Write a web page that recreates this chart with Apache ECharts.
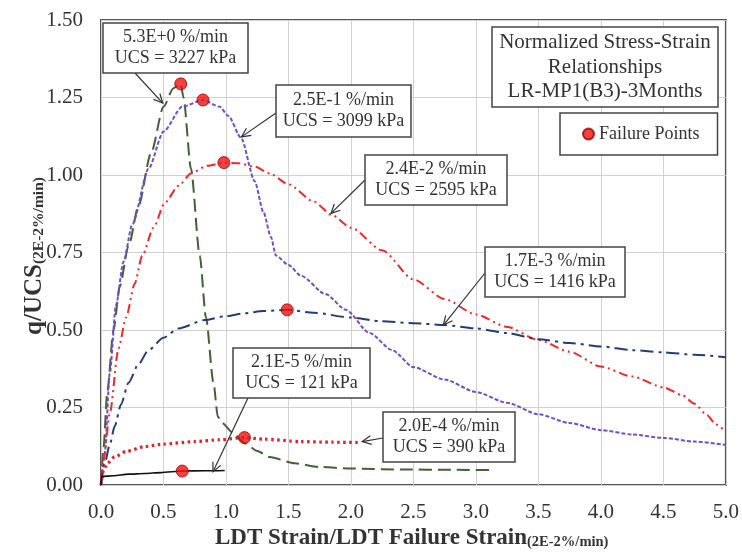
<!DOCTYPE html>
<html>
<head>
<meta charset="utf-8">
<script src="https://cdn.jsdelivr.net/npm/echarts@6/dist/echarts.min.js"></script>
<style>
  html, body { margin: 0; padding: 0; background: #fff; }
  #chart { width: 742px; height: 556px; }
</style>
</head>
<body>
<div id="chart"></div>
<script>
// Normalized stress-strain curves, LR-MP1(B3), 3 months of curing.
// x: LDT strain / LDT failure strain at 2E-2 %/min, y: q / UCS at 2E-2 %/min.

const rateLabels = ['5.3E+0', '2.5E-1', '2.4E-2', '1.7E-3', '2.0E-4', '2.1E-5'];
const ucsKpa = [3227, 3099, 2595, 1416, 390, 121];

const strain53 = [0, 0.02, 0.05, 0.1, 0.15, 0.22, 0.3, 0.4, 0.5, 0.58, 0.638, 0.66, 0.72, 0.79, 0.84, 0.9, 0.935, 0.97, 1.05, 1.15, 1.25, 1.35, 1.55, 1.75, 2.0, 2.4, 2.8, 3.13];
const q53 = [0, 0.12, 0.3, 0.5, 0.64, 0.77, 0.9, 1.07, 1.22, 1.28, 1.294, 1.25, 1.02, 0.74, 0.54, 0.33, 0.22, 0.2, 0.17, 0.135, 0.11, 0.09, 0.07, 0.058, 0.053, 0.05, 0.049, 0.048];

const strain25 = [0, 0.03, 0.07, 0.12, 0.18, 0.25, 0.38, 0.5, 0.65, 0.816, 0.95, 1.02, 1.12, 1.23, 1.3, 1.36, 1.4, 1.5, 1.6, 1.8, 1.96, 2.15, 2.33, 2.5, 2.75, 3.0, 3.25, 3.5, 3.75, 4.0, 4.25, 4.5, 4.75, 5.0];
const q25 = [0, 0.1, 0.36, 0.58, 0.72, 0.84, 1.02, 1.14, 1.22, 1.242, 1.22, 1.19, 1.12, 0.98, 0.88, 0.8, 0.74, 0.71, 0.675, 0.615, 0.565, 0.49, 0.435, 0.38, 0.34, 0.3, 0.265, 0.228, 0.2, 0.177, 0.163, 0.152, 0.14, 0.129];

const strain24 = [0, 0.02, 0.07, 0.14, 0.2, 0.27, 0.33, 0.42, 0.51, 0.62, 0.72, 0.85, 0.983, 1.1, 1.23, 1.35, 1.5, 1.7, 1.85, 2.0, 2.25, 2.5, 2.75, 3.0, 3.25, 3.5, 3.75, 4.0, 4.25, 4.5, 4.65, 4.75, 4.85, 4.92, 5.0];
const q24 = [0, 0.08, 0.23, 0.44, 0.54, 0.65, 0.74, 0.83, 0.91, 0.965, 1.005, 1.03, 1.04, 1.038, 1.027, 1.005, 0.97, 0.915, 0.87, 0.83, 0.757, 0.663, 0.6, 0.55, 0.51, 0.468, 0.43, 0.382, 0.35, 0.315, 0.29, 0.262, 0.225, 0.195, 0.172];

const strain17 = [0, 0.03, 0.07, 0.11, 0.16, 0.22, 0.3, 0.38, 0.5, 0.62, 0.83, 1.0, 1.15, 1.3, 1.49, 1.7, 2.0, 2.25, 2.5, 2.75, 3.0, 3.25, 3.5, 3.75, 4.0, 4.25, 4.5, 4.75, 5.0];
const q17 = [0, 0.07, 0.13, 0.19, 0.26, 0.33, 0.39, 0.435, 0.475, 0.505, 0.532, 0.545, 0.554, 0.561, 0.565, 0.556, 0.54, 0.528, 0.522, 0.516, 0.505, 0.49, 0.47, 0.458, 0.447, 0.435, 0.428, 0.42, 0.412];

const strain20 = [0, 0.02, 0.05, 0.11, 0.2, 0.35, 0.5, 0.75, 0.95, 1.148, 1.3, 1.6, 1.85, 2.08];
const q20 = [0, 0.048, 0.07, 0.091, 0.108, 0.124, 0.132, 0.14, 0.146, 0.153, 0.148, 0.14, 0.138, 0.137];

const strain21 = [0, 0.005, 0.1, 0.22, 0.35, 0.48, 0.65, 0.83, 0.99];
const q21 = [0, 0.027, 0.03, 0.035, 0.037, 0.04, 0.045, 0.046, 0.047];

const failStrain = [0.638, 0.816, 0.983, 1.49, 1.148, 0.65];
const failQ = [1.294, 1.242, 1.04, 0.565, 0.153, 0.045];

// Points on each curve that the callout arrows touch (data units)
const calloutTipStrain = [0.494, 1.124, 1.84, 2.74, 2.09, 0.896];
const calloutTipQ = [1.232, 1.123, 0.876, 0.516, 0.14, 0.043];

const titleLines = ['Normalized Stress-Strain', 'Relationships', 'LR-MP1(B3)-3Months'];

// ---- layout (pixels) ----
const SERIF = '"Liberation Serif", "Times New Roman", serif';
const GRID = { left: 101, top: 20, right: 14, bottom: 71 };
// callout boxes [x, y, w, h] and arrow tails [x, y], in series order
const boxRects = [
  [103, 23, 145, 50],
  [276, 85, 135, 52],
  [365, 155, 142, 50],
  [485, 247, 140, 50],
  [383, 412, 132, 50],
  [233, 348, 137, 50]
];
const arrowTails = [[135, 73], [276, 113], [365, 180], [485, 273], [383, 438], [248, 398]];

const zip = (xs, ys) => xs.map((x, i) => [x, ys[i]]);

function lineSeries(name, xs, ys, color, dash, width) {
  return {
    name, type: 'line', data: zip(xs, ys),
    showSymbol: false, smooth: 0.25, smoothMonotone: 'x',
    lineStyle: { color, width, type: dash, cap: 'butt' },
    itemStyle: { color }, z: 3, silent: true
  };
}

const chart = echarts.init(document.getElementById('chart'), null, { renderer: 'canvas' });

const option = {
  animation: false,
  backgroundColor: '#fff',
  grid: { ...GRID, show: true, borderColor: '#555', borderWidth: 2, backgroundColor: 'transparent' },
  xAxis: {
    type: 'value', min: 0, max: 5, interval: 0.5,
    axisLine: { show: false }, axisTick: { show: false },
    splitLine: { show: true, lineStyle: { color: '#d0d0d0', width: 1 } },
    axisLabel: { formatter: v => v.toFixed(1), color: '#333', fontFamily: SERIF, fontSize: 21, margin: 17 }
  },
  yAxis: {
    type: 'value', min: 0, max: 1.5, interval: 0.25,
    axisLine: { show: false }, axisTick: { show: false },
    splitLine: { show: true, lineStyle: { color: '#d0d0d0', width: 1 } },
    axisLabel: { formatter: v => v.toFixed(2), color: '#333', fontFamily: SERIF, fontSize: 21, margin: 18 }
  },
  legend: {
    data: ['Failure Points'], left: 560, top: 113,
    padding: [12, 18, 12, 22], itemWidth: 11, itemHeight: 11, itemGap: 4,
    borderColor: '#444', borderWidth: 1.5, backgroundColor: '#fff',
    textStyle: { fontFamily: SERIF, fontSize: 18, color: '#333' }
  },
  series: [
    lineSeries(rateLabels[0], strain53, q53, '#3f6234', [13, 6], 2),
    lineSeries(rateLabels[1], strain25, q25, '#7050c8', [4, 2], 2),
    lineSeries(rateLabels[2], strain24, q24, '#f02828', [9, 4, 2, 4, 2, 4], 2),
    lineSeries(rateLabels[3], strain17, q17, '#233c78', [13, 5, 3, 5], 2),
    lineSeries(rateLabels[4], strain20, q20, '#e3202a', [2.5, 3.5], 3.2),
    lineSeries(rateLabels[5], strain21, q21, '#111111', 'solid', 1.6),
    {
      name: 'Failure Points', type: 'scatter', data: zip(failStrain, failQ),
      symbol: 'circle', symbolSize: 12, z: 5,
      itemStyle: { color: '#f01010', borderColor: '#a00000', borderWidth: 1 }
    }
  ]
};
chart.setOption(option);

// ---- annotations: axis names, title box, callouts with arrows ----
function arrow(tail, tip) {
  const dx = tip[0] - tail[0], dy = tip[1] - tail[1];
  const len = Math.hypot(dx, dy), ux = dx / len, uy = dy / len;
  const head = 10, spread = 0.45;
  const c = Math.cos(spread), s = Math.sin(spread);
  const p1 = [tip[0] - head * (ux * c - uy * s), tip[1] - head * (uy * c + ux * s)];
  const p2 = [tip[0] - head * (ux * c + uy * s), tip[1] - head * (uy * c - ux * s)];
  const st = { stroke: '#333', lineWidth: 1.2, fill: null };
  return [
    { type: 'polyline', shape: { points: [tail, tip] }, style: st, z: 20 },
    { type: 'polyline', shape: { points: [p1, tip, p2] }, style: st, z: 20 }
  ];
}

const graphics = [];

rateLabels.forEach((rate, i) => {
  const [bx, by, bw, bh] = boxRects[i];
  const tip = chart.convertToPixel({ gridIndex: 0 }, [calloutTipStrain[i], calloutTipQ[i]]);
  graphics.push(...arrow(arrowTails[i], tip));
  graphics.push({
    type: 'rect', shape: { x: bx, y: by, width: bw, height: bh }, z: 21,
    style: { fill: '#fff', stroke: '#444', lineWidth: 1.5 }
  });
  graphics.push({
    type: 'text', x: bx + bw / 2, y: by + bh / 2, z: 22,
    style: {
      text: rate + ' %/min\nUCS = ' + ucsKpa[i] + ' kPa',
      align: 'center', verticalAlign: 'middle',
      font: '18px ' + SERIF, lineHeight: 21, fill: '#333'
    }
  });
});

// title block
graphics.push({
  type: 'rect', shape: { x: 492, y: 27, width: 226, height: 80 }, z: 21,
  style: { fill: '#fff', stroke: '#444', lineWidth: 1.5 }
});
graphics.push({
  type: 'text', x: 605, y: 67, z: 22,
  style: {
    text: titleLines.join('\n'), align: 'center', verticalAlign: 'middle',
    font: '21px ' + SERIF, lineHeight: 24.5, fill: '#333'
  }
});

// Axis names: both rich tokens sit on the line bottom, so the shorter
// line box of the small token drops it below the main text (subscript).
function axisNameRich(mainSize, subSize) {
  return {
    m: { fontFamily: SERIF, fontWeight: 'bold', fontSize: mainSize, lineHeight: 40, verticalAlign: 'bottom', fill: '#333' },
    s: { fontFamily: SERIF, fontWeight: 'bold', fontSize: subSize, lineHeight: 25, verticalAlign: 'bottom', fill: '#333' }
  };
}

graphics.push({
  type: 'text', x: 215, y: 530, z: 22,
  style: {
    text: '{m|LDT Strain/LDT Failure Strain}{s|(2E-2%/min)}',
    align: 'left', verticalAlign: 'middle', rich: axisNameRich(23, 14.5)
  }
});

graphics.push({
  type: 'text', x: 27, y: 256, rotation: Math.PI / 2, z: 22,
  style: {
    text: '{m|q/UCS}{s|(2E-2%/min)}',
    align: 'center', verticalAlign: 'middle', rich: axisNameRich(25, 15.5)
  }
});

chart.setOption({ graphic: graphics });
</script>
</body>
</html>
